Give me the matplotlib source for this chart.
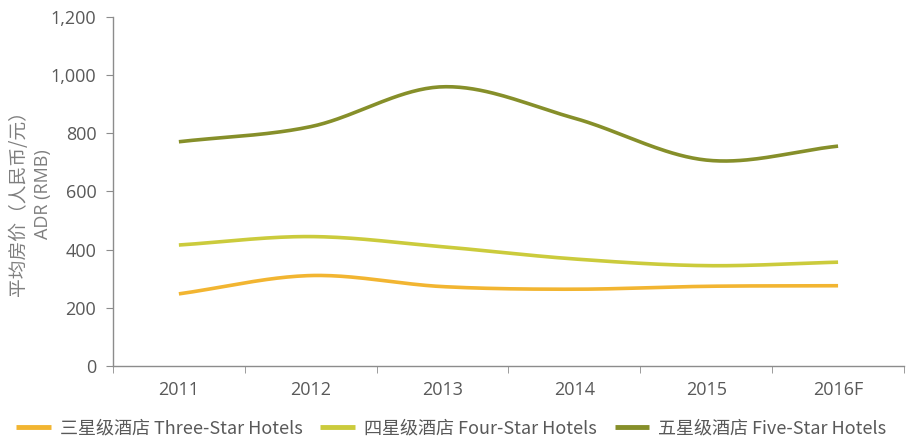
import numpy as np
import matplotlib
matplotlib.use("Agg")
import matplotlib.pyplot as plt

plt.rcParams['font.family'] = ['Open Sans', 'Noto Sans CJK SC', 'DejaVu Sans']

# dati
anni = ["2011", "2012", "2013", "2014", "2015", "2016F"]
tre_stelle = [248, 311, 273, 264, 274, 276]
quattro_stelle = [416, 445, 410, 368, 345, 357]
cinque_stelle = [771, 823, 960, 852, 708, 756]

etichette = ["三星级酒店 Three-Star Hotels", "四星级酒店 Four-Star Hotels", "五星级酒店 Five-Star Hotels"]
colori = ["#F2B531", "#CBCB3C", "#868F2A"]


def catmull_rom(x, y, n=40):
    # curva smussata come le linee "smooth" di Excel
    x = np.asarray(x, float)
    y = np.asarray(y, float)
    px = np.concatenate([[2 * x[0] - x[1]], x, [2 * x[-1] - x[-2]]])
    py = np.concatenate([[2 * y[0] - y[1]], y, [2 * y[-1] - y[-2]]])
    xs, ys = [], []
    t = np.linspace(0, 1, n)
    for i in range(1, len(px) - 2):
        for p, out in ((px, xs), (py, ys)):
            p0, p1, p2, p3 = p[i - 1], p[i], p[i + 1], p[i + 2]
            out.append(0.5 * ((2 * p1) + (-p0 + p2) * t
                              + (2 * p0 - 5 * p1 + 4 * p2 - p3) * t ** 2
                              + (-p0 + 3 * p1 - 3 * p2 + p3) * t ** 3))
    return np.concatenate(xs), np.concatenate(ys)


fig = plt.figure(figsize=(9.17, 4.47), dpi=100)
ax = fig.add_axes([0.1232, 0.1812, 0.8626, 0.7808])

pos = np.arange(len(anni))
for serie, lab, col in zip([tre_stelle, quattro_stelle, cinque_stelle], etichette, colori):
    xs, ys = catmull_rom(pos, serie)
    ax.plot(xs, ys, color=col, lw=2.6, label=lab, solid_capstyle='butt')

grigio = "#8C8C8C"
ax.set_xlim(-0.5, len(anni) - 0.5)
ax.set_ylim(0, 1200)
ax.set_yticks(np.arange(0, 1201, 200))
ax.set_yticklabels([f"{v:,}" for v in range(0, 1201, 200)])
ax.set_xticks(pos)
ax.set_xticklabels(anni)
ax.set_xticks(np.arange(-0.5, len(anni), 1), minor=True)
ax.tick_params(axis='x', which='major', length=0, pad=11)
ax.tick_params(axis='x', which='minor', length=5, color=grigio, direction='out')
ax.tick_params(axis='y', length=5, color=grigio, pad=7)
ax.tick_params(labelsize=13, labelcolor="#595959")

for s in ['top', 'right']:
    ax.spines[s].set_visible(False)
for s in ['left', 'bottom']:
    ax.spines[s].set_color(grigio)
    ax.spines[s].set_linewidth(1.0)

fig.text(0.02, 0.555, "平均房价（人民币/元）", rotation=90, ha='center', va='center',
         fontsize=13.5, color="#7F7F7F", family=['Noto Sans CJK SC', 'DejaVu Sans'])
fig.text(0.047, 0.565, "ADR (RMB)", rotation=90, ha='center', va='center',
         fontsize=13, color="#7F7F7F")

leg = fig.legend(loc='lower left', bbox_to_anchor=(0.0, -0.015), ncol=3, frameon=False,
                 fontsize=13, handlelength=1.9, columnspacing=1.0, handletextpad=0.5)
for t in leg.get_texts():
    t.set_color("#595959")
    t.set_family(['Noto Sans CJK SC', 'DejaVu Sans'])
for h in leg.get_lines():
    h.set_linewidth(3.5)

fig.savefig("out.png", dpi=100)
